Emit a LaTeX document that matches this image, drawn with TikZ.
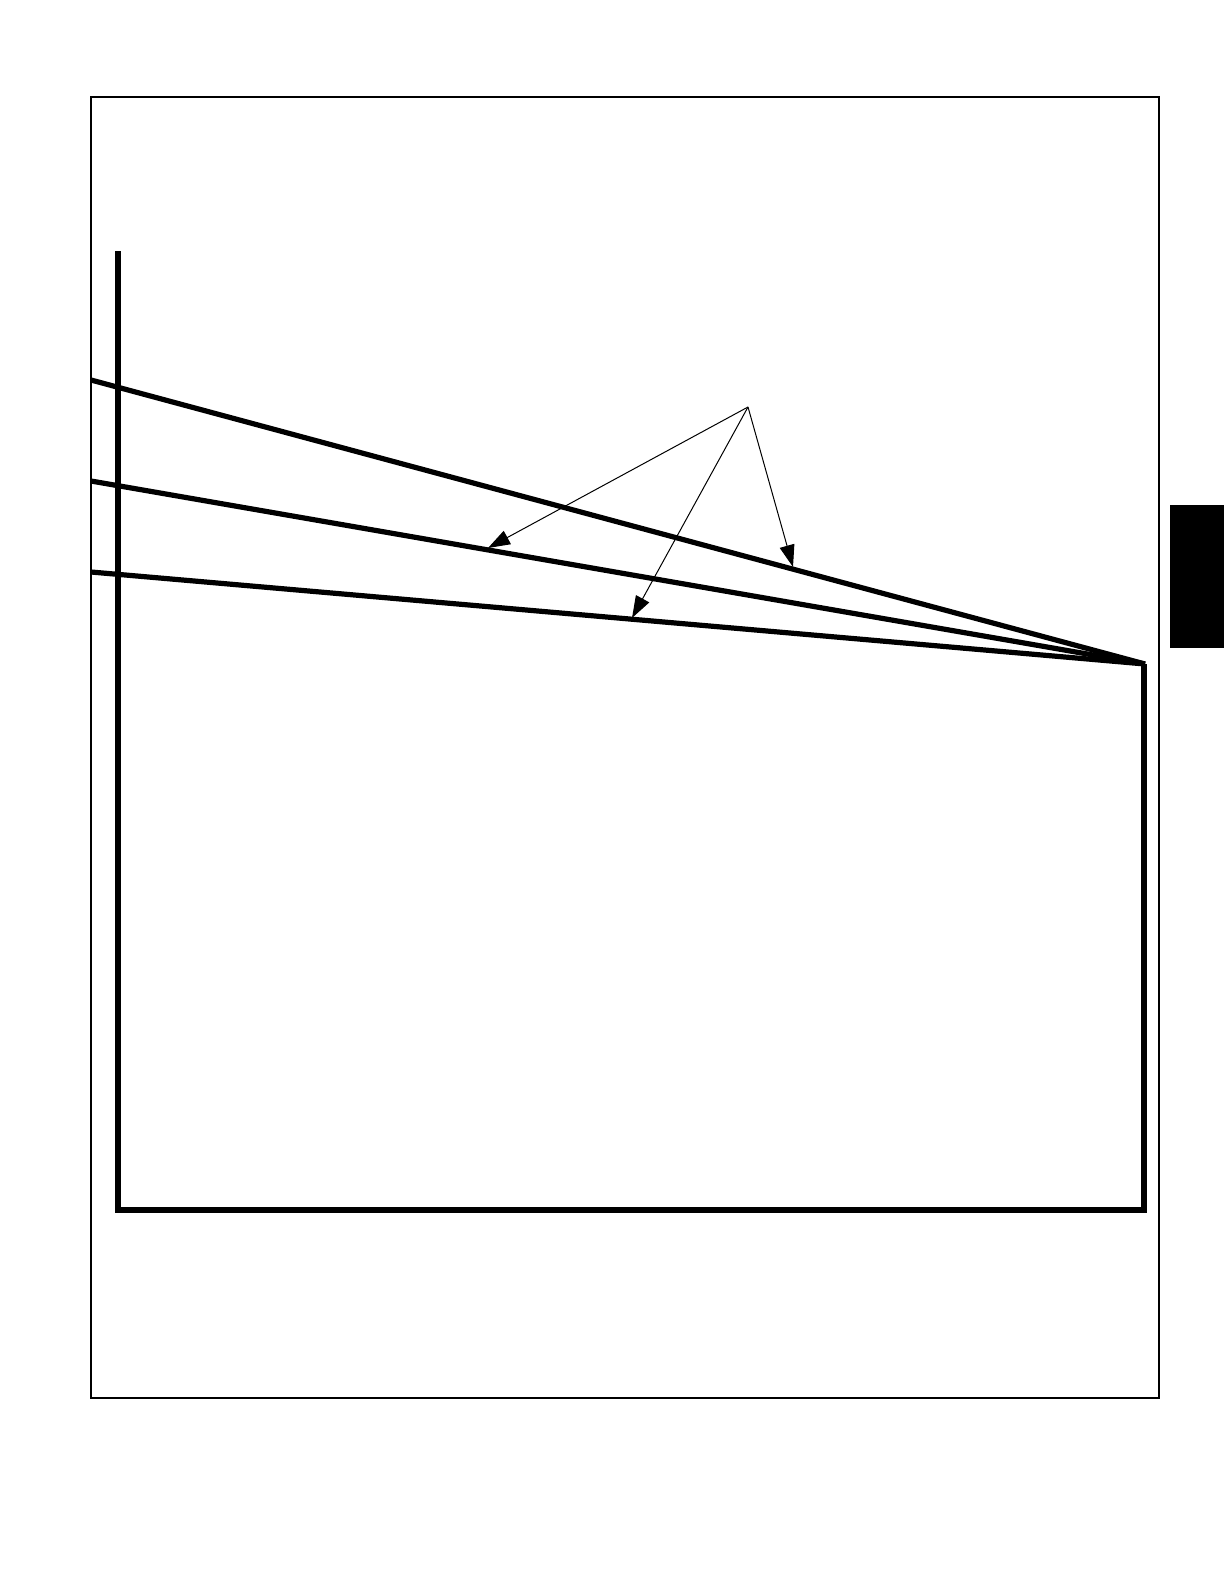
\documentclass[tikz,border=0pt]{standalone}
\usetikzlibrary{arrows.meta}
\begin{document}
\begin{tikzpicture}[x=0.5pt,y=-0.5pt,
  frame/.style={line width=0.9pt},
  heavy/.style={line width=2.6pt},
  leader/.style={line width=0.5pt,-{Triangle[length=11pt,width=7.5pt]}}]
\useasboundingbox (0,0) rectangle (1224,1584);
% outer frame
\draw[frame] (91,97) rectangle (1159,1398);
% side tab
\fill (1170,505) rectangle (1224,648);
% coordinates
\coordinate (apex) at (1145,664);
\coordinate (topL) at (91,380);
\coordinate (midL) at (91,481);
\coordinate (botL) at (91,572);
\coordinate (src) at (748,407);
\coordinate (tipA) at (488,548);
\coordinate (tipB) at (632,618);
\coordinate (tipC) at (793,567);
% inner outline
\draw[heavy,line join=miter] (118,251) -- (118,1210) -- (1144,1210) -- (1144,664);
% converging lines
\draw[heavy] (topL) -- (apex);
\draw[heavy] (midL) -- (apex);
\draw[heavy] (botL) -- (apex);
% leaders
\draw[leader] (src) -- (tipA);
\draw[leader] (src) -- (tipB);
\draw[leader] (src) -- (tipC);
\end{tikzpicture}
\end{document}
